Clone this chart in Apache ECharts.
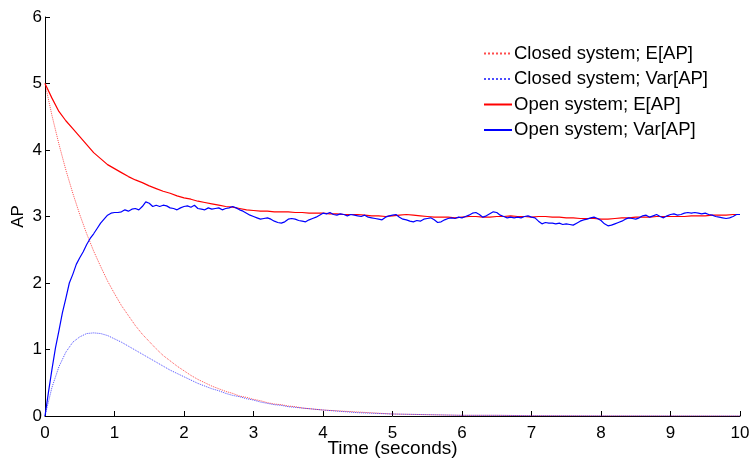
<!DOCTYPE html>
<html>
<head>
<meta charset="utf-8">
<script src="https://cdn.jsdelivr.net/npm/echarts@6/dist/echarts.min.js"></script>
<style>
  html, body { margin: 0; padding: 0; background: #fff; }
  #chart { width: 752px; height: 458px; }
</style>
</head>
<body>
<div id="chart"></div>
<script>
// Axis ticks
const xTicks = [0, 1, 2, 3, 4, 5, 6, 7, 8, 9, 10];
const yTicks = [0, 1, 2, 3, 4, 5, 6];

// Series names
const seriesNames = [
  'Closed system; E[AP]',
  'Closed system; Var[AP]',
  'Open system; E[AP]',
  'Open system; Var[AP]'
];

// Closed system: sample times (s)
const closedTime = [
  0, 0.1, 0.2, 0.3, 0.4, 0.5, 0.6, 0.7, 0.8, 0.9,
  1.0, 1.1, 1.2, 1.3, 1.4, 1.5, 1.6, 1.7, 1.8, 1.9,
  2.0, 2.1, 2.2, 2.3, 2.4, 2.5, 2.6, 2.7, 2.8, 2.9,
  3.0, 3.1, 3.2, 3.3, 3.4, 3.5, 3.6, 3.7, 3.8, 3.9,
  4.0, 4.5, 5.0, 5.5, 6.0, 6.5, 7.0, 8.0, 9.0, 10.0
];
const closedMean = [
  5.00, 4.52, 4.09, 3.70, 3.35, 3.03, 2.74, 2.48, 2.25, 2.03,
  1.84, 1.66, 1.51, 1.36, 1.23, 1.12, 1.01, 0.91, 0.83, 0.75,
  0.68, 0.61, 0.55, 0.50, 0.45, 0.41, 0.37, 0.34, 0.30, 0.28,
  0.25, 0.23, 0.20, 0.18, 0.17, 0.15, 0.14, 0.12, 0.11, 0.10,
  0.09, 0.06, 0.03, 0.02, 0.01, 0.01, 0.005, 0.002, 0.001, 0.0
];
const closedVar = [
  0.00, 0.43, 0.74, 0.96, 1.11, 1.19, 1.24, 1.25, 1.24, 1.21,
  1.16, 1.11, 1.05, 0.99, 0.93, 0.87, 0.81, 0.75, 0.69, 0.64,
  0.59, 0.54, 0.49, 0.45, 0.41, 0.38, 0.34, 0.31, 0.29, 0.26,
  0.24, 0.21, 0.19, 0.17, 0.16, 0.14, 0.13, 0.12, 0.11, 0.10,
  0.09, 0.05, 0.03, 0.02, 0.01, 0.01, 0.005, 0.002, 0.001, 0.0
];

// Open system mean, sampled every 0.1 s from 0 to 10
const openMeanStep = 0.1;
const openMean = [
  5.00, 4.78, 4.58, 4.44, 4.32, 4.20, 4.08, 3.96, 3.87, 3.78,
  3.72, 3.66, 3.60, 3.55, 3.51, 3.46, 3.42, 3.38, 3.35, 3.31,
  3.28, 3.26, 3.23, 3.21, 3.19, 3.17, 3.15, 3.14, 3.12, 3.10,
  3.09, 3.08, 3.08, 3.07, 3.07, 3.07, 3.06, 3.06, 3.05, 3.05,
  3.05, 3.04, 3.04, 3.03, 3.03, 3.03, 3.02, 3.01, 3.01, 3.00,
  3.01, 3.02, 3.03, 3.02, 3.01, 3.00, 2.99, 2.99, 2.99, 2.98,
  2.99, 3.00, 3.00, 2.99, 2.99, 3.00, 3.00, 3.01, 3.00, 3.00,
  2.99, 3.00, 3.00, 2.99, 2.99, 2.98, 2.98, 2.97, 2.97, 2.97,
  2.96, 2.96, 2.97, 2.98, 2.98, 2.99, 2.99, 2.99, 3.00, 3.00,
  3.00, 3.00, 3.00, 3.01, 3.01, 3.01, 3.02, 3.02, 3.02, 3.03,
  3.03
];

// Open system variance, sampled every 0.05 s from 0 to 10
const openVarStep = 0.05;
const openVar = [
  0.00, 0.36, 0.70, 1.02, 1.28, 1.55, 1.77, 2.00, 2.13, 2.28,
  2.38, 2.47, 2.58, 2.67, 2.74, 2.82, 2.90, 2.96, 3.02, 3.05,
  3.06, 3.06, 3.07, 3.10, 3.08, 3.11, 3.12, 3.10, 3.15, 3.22,
  3.20, 3.15, 3.17, 3.15, 3.17, 3.16, 3.13, 3.12, 3.10, 3.13,
  3.15, 3.16, 3.14, 3.17, 3.12, 3.11, 3.10, 3.13, 3.11, 3.12,
  3.13, 3.10, 3.12, 3.13, 3.15, 3.13, 3.10, 3.08, 3.05, 3.02,
  3.00, 2.98, 2.96, 2.97, 2.98, 2.96, 2.93, 2.91, 2.90, 2.92,
  2.96, 2.97, 2.96, 2.94, 2.93, 2.92, 2.95, 2.97, 2.99, 3.02,
  3.05, 3.04, 3.06, 3.03, 3.02, 3.04, 3.03, 3.01, 3.03, 3.02,
  3.01, 3.00, 3.02, 2.99, 2.98, 2.97, 2.96, 2.95, 2.99, 3.01,
  3.02, 3.03, 2.99, 2.96, 2.95, 2.93, 2.92, 2.94, 2.93, 2.96,
  2.97, 2.98, 2.95, 2.91, 2.92, 2.95, 2.97, 2.98, 2.97, 2.99,
  2.98, 3.00, 3.02, 3.05, 3.06, 3.03, 2.99, 3.01, 3.04, 3.07,
  3.06, 3.02, 3.00, 2.98, 2.99, 2.98, 2.99, 2.98, 3.00, 3.01,
  2.99, 2.98, 2.93, 2.89, 2.91, 2.90, 2.90, 2.89, 2.90, 2.88,
  2.89, 2.88, 2.87, 2.90, 2.93, 2.95, 2.96, 2.98, 2.99, 2.97,
  2.94, 2.89, 2.86, 2.87, 2.89, 2.91, 2.93, 2.96, 2.98, 2.97,
  2.96, 2.98, 3.01, 3.02, 2.99, 3.01, 3.03, 3.00, 2.98, 3.01,
  3.03, 3.04, 3.02, 3.03, 3.05, 3.06, 3.05, 3.06, 3.05, 3.04,
  3.05, 3.03, 3.02, 3.00, 2.99, 2.98, 2.97, 2.98, 3.00, 3.03,
  3.03
];

function pairs(times, values) {
  return values.map((v, i) => [times[i], v]);
}
function stepPairs(step, values) {
  return values.map((v, i) => [+(i * step).toFixed(2), v]);
}

const FONT = 'Liberation Sans, Arial, Helvetica, sans-serif';
const RED = '#ff0000';
const BLUE = '#0000ff';

const chart = echarts.init(document.getElementById('chart'), null, { renderer: 'canvas' });

const axisCommon = {
  type: 'value',
  nameMoveOverlap: false,
  axisLine: { show: true, onZero: false, lineStyle: { color: '#000', width: 1 } },
  axisTick: { show: true, inside: true, length: 5, lineStyle: { color: '#000', width: 1 } },
  splitLine: { show: false },
  axisLabel: { color: '#000', fontFamily: FONT, fontSize: 17 },
  nameTextStyle: { color: '#000', fontFamily: FONT, fontSize: 17 }
};

chart.setOption({
  backgroundColor: '#fff',
  animation: false,
  grid: { left: 45, right: 12, top: 17, bottom: 42, containLabel: false, outerBoundsMode: 'none' },
  xAxis: Object.assign({}, axisCommon, {
    min: xTicks[0], max: xTicks[xTicks.length - 1], interval: 1,
    name: 'Time (seconds)', nameLocation: 'middle', nameGap: 23,
    nameTextStyle: { color: '#000', fontFamily: FONT, fontSize: 19 },
    axisLabel: Object.assign({}, axisCommon.axisLabel, { margin: 9 })
  }),
  yAxis: Object.assign({}, axisCommon, {
    min: yTicks[0], max: yTicks[yTicks.length - 1], interval: 1,
    name: 'AP', nameLocation: 'middle', nameGap: 18,
    axisLabel: Object.assign({}, axisCommon.axisLabel, { margin: 3 })
  }),
  legend: {
    orient: 'vertical',
    left: 478, top: 39,
    itemWidth: 28, itemHeight: 14, itemGap: 6.5,
    itemStyle: { opacity: 0, borderWidth: 0 },
    textStyle: { color: '#000', fontFamily: FONT, fontSize: 18.5, lineHeight: 18, padding: [0, 0, 0, -3] },
    data: seriesNames
  },
  series: [
    {
      name: seriesNames[0], type: 'line', symbol: 'none', smooth: false,
      lineStyle: { color: RED, width: 1, type: 'dotted', opacity: 0.7 },
      itemStyle: { color: RED },
      data: pairs(closedTime, closedMean)
    },
    {
      name: seriesNames[1], type: 'line', symbol: 'none',
      lineStyle: { color: BLUE, width: 1, type: 'dotted', opacity: 0.7 },
      itemStyle: { color: BLUE },
      data: pairs(closedTime, closedVar)
    },
    {
      name: seriesNames[2], type: 'line', symbol: 'none',
      lineStyle: { color: RED, width: 1.2 },
      itemStyle: { color: RED },
      data: stepPairs(openMeanStep, openMean)
    },
    {
      name: seriesNames[3], type: 'line', symbol: 'none',
      lineStyle: { color: BLUE, width: 1.2 },
      itemStyle: { color: BLUE },
      data: stepPairs(openVarStep, openVar)
    }
  ]
});
</script>
</body>
</html>
